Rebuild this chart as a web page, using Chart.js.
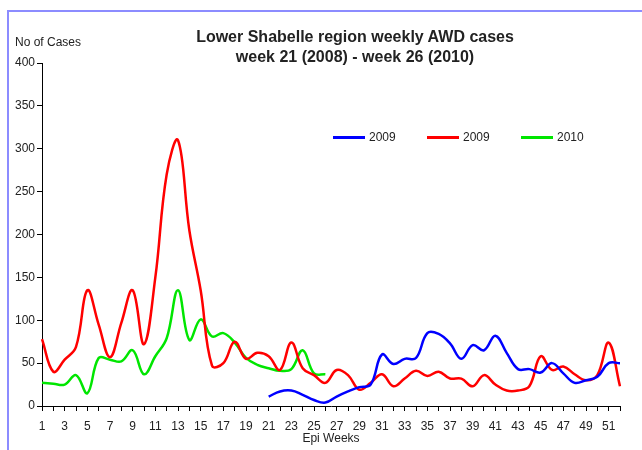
<!DOCTYPE html>
<html>
<head>
<meta charset="utf-8">
<script src="https://cdn.jsdelivr.net/npm/chart.js@4"></script>
<style>
  body { margin: 0; background: #fff; font-family: "Liberation Sans", Arial, sans-serif; }
  #wrap { position: relative; width: 642px; height: 450px; overflow: hidden; }
  #frame { position: absolute; left: 7px; top: 10px; width: 700px; height: 500px;
           border-left: 2px solid #8c8cff; border-top: 2px solid #8c8cff; }
  canvas { position: absolute; left: 0; top: 0; }
  #title { position: absolute; left: 155px; width: 400px; top: 27px; text-align: center;
           font-weight: bold; font-size: 16px; line-height: 20px; color: #222; }
  #ylab { position: absolute; left: 15px; top: 35px; font-size: 12px; color: #222; }
  #legend { position: absolute; left: 333px; top: 130px; display: flex; font-size: 12px; color: #222; }
  #legend .item { width: 94px; display: flex; align-items: center; }
  #legend .sw { width: 32px; height: 3px; margin-right: 4px; }
</style>
</head>
<body>
<div id="wrap">
  <div id="frame"></div>
  <canvas id="awd" width="642" height="450"></canvas>
  <div id="title">Lower Shabelle region weekly AWD cases<br>week 21 (2008) - week 26 (2010)</div>
  <div id="ylab">No of Cases</div>
  <div id="legend"></div>
</div>
<script>
const weeks = ["1","2","3","4","5","6","7","8","9","10","11","12","13","14","15","16","17","18","19","20",
  "21","22","23","24","25","26","27","28","29","30","31","32","33","34","35","36","37","38","39","40",
  "41","42","43","44","45","46","47","48","49","50","51","52"];

// blue series (starts week 21)
const blueCases = [null,null,null,null,null,null,null,null,null,null,
  null,null,null,null,null,null,null,null,null,null,
  11,17,18,13,7,4,11,17,22,25,
  60,49,55,56,85,84,73,55,71,65,
  82,62,43,43,39,50,38,27,30,34,
  50,50];

const redCases = [78,40,54,69,135,95,57,97,135,72,
  150,270,310,205,135,47,50,75,55,62,
  58,42,74,44,36,27,42,36,19,27,
  37,23,32,41,35,40,32,32,23,36,
  25,18,18,23,58,42,46,37,30,36,
  74,23];

const greenCases = [27,26,25,36,15,56,54,52,65,37,
  58,79,135,77,101,81,85,74,56,48,
  44,41,43,65,38,37];

const seriesNames = ["2009", "2009", "2010"];
const seriesColors = ["#0000ff", "#ff0000", "#00e600"];

Chart.defaults.font.family = "'Liberation Sans', Arial, sans-serif";

const ctx = document.getElementById('awd').getContext('2d');
const chart = new Chart(ctx, {
  type: 'line',
  data: {
    labels: weeks,
    datasets: [blueCases, redCases, greenCases].map((d, i) => ({
      label: seriesNames[i],
      data: d,
      borderColor: seriesColors[i],
      backgroundColor: seriesColors[i],
      borderWidth: 2.5,
      pointRadius: 0,
      tension: 0.4,
      fill: false
    }))
  },
  options: {
    responsive: false,
    animation: false,
    layout: { padding: { top: 63, right: 22, left: 0, bottom: 0 } },
    plugins: {
      legend: { display: false },
      title: { display: false },
      tooltip: { enabled: false }
    },
    scales: {
      x: {
        offset: false,
        grid: { drawOnChartArea: false, drawTicks: true, tickLength: 5, color: '#000' },
        border: { display: true, color: '#000', width: 1 },
        ticks: {
          autoSkip: false, maxRotation: 0, minRotation: 0, padding: 8,
          color: '#222', font: { size: 12 },
          callback: (v, i) => (i % 2 === 0 ? weeks[i] : '')
        },
        title: { display: true, text: 'Epi Weeks', color: '#222', font: { size: 12 }, padding: { top: 0, bottom: 4 } },
        afterFit: (s) => { s.height = 44; }
      },
      y: {
        min: 0, max: 400,
        grid: { drawOnChartArea: false, drawTicks: true, tickLength: 5, color: '#000' },
        border: { display: true, color: '#000', width: 1 },
        ticks: { stepSize: 50, padding: 2, color: '#222', font: { size: 12 } },
        afterFit: (s) => { s.width = 42; }
      }
    }
  }
});

const legend = document.getElementById('legend');
chart.data.datasets.forEach(ds => {
  const item = document.createElement('div');
  item.className = 'item';
  const sw = document.createElement('span');
  sw.className = 'sw';
  sw.style.background = ds.borderColor;
  const txt = document.createElement('span');
  txt.textContent = ds.label;
  item.appendChild(sw);
  item.appendChild(txt);
  legend.appendChild(item);
});
</script>
</body>
</html>
